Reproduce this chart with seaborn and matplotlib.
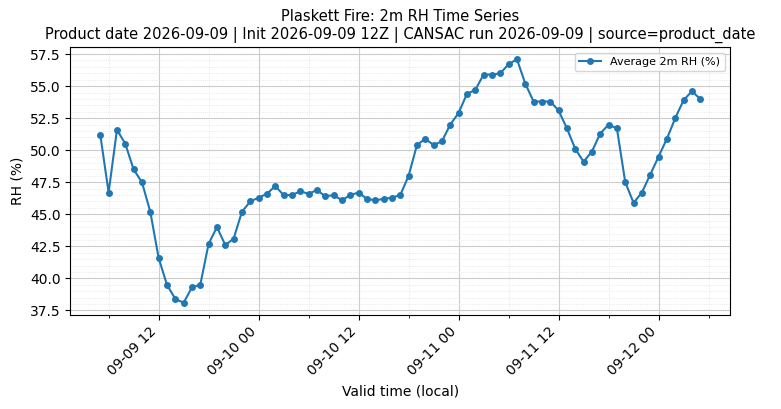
import matplotlib
matplotlib.use("Agg")
import matplotlib.pyplot as plt
import matplotlib.dates as mdates
from matplotlib.ticker import MultipleLocator
import pandas as pd
import seaborn as sns

start_time = "2026-09-09 05:00"
rh_values = [
    51.2, 46.7, 51.6, 50.5, 48.5, 47.5, 45.2, 41.6, 39.5, 38.4,
    38.1, 39.3, 39.5, 42.7, 44.0, 42.6, 43.1, 45.2, 46.0, 46.3,
    46.6, 47.2, 46.5, 46.5, 46.8, 46.6, 46.9, 46.4, 46.5, 46.1,
    46.5, 46.7, 46.2, 46.1, 46.2, 46.3, 46.5, 48.0, 50.4, 50.9,
    50.4, 50.7, 52.0, 52.9, 54.4, 54.7, 55.9, 55.9, 56.0, 56.7,
    57.1, 55.2, 53.8, 53.8, 53.8, 53.1, 51.7, 50.1, 49.1, 49.9,
    51.3, 52.0, 51.7, 47.5, 45.9, 46.7, 48.1, 49.5, 50.9, 52.5,
    53.9, 54.6, 54.0,
]

df = pd.DataFrame({
    "time": pd.date_range(start_time, periods=len(rh_values), freq="h"),
    "rh": rh_values,
})

plt.rcParams["font.family"] = ["DejaVu Sans"]

fig, ax = plt.subplots(figsize=(7.81, 4.09), dpi=100)
sns.lineplot(data=df, x="time", y="rh", ax=ax, marker="o", markersize=5,
             markeredgewidth=0, color="#1f77b4", linewidth=1.5,
             label="Average 2m RH (%)")

ax.xaxis.set_major_locator(mdates.HourLocator(byhour=[0, 12]))
ax.xaxis.set_minor_locator(mdates.HourLocator(byhour=[6, 18]))
ax.xaxis.set_major_formatter(mdates.DateFormatter("%m-%d %H"))
ax.yaxis.set_major_locator(MultipleLocator(2.5))
ax.yaxis.set_minor_locator(MultipleLocator(0.5))
ax.tick_params(axis="y", which="minor", length=0)
ax.grid(which="major", color="#cccccc", linewidth=0.8)
ax.grid(which="minor", color="#e0e0e0", linestyle=":", linewidth=0.6)
plt.setp(ax.get_xticklabels(), rotation=45, ha="right")

ax.set_xlabel("Valid time (local)")
ax.set_ylabel("RH (%)")
ax.set_title("Plaskett Fire: 2m RH Time Series\n"
             "Product date 2026-09-09 | Init 2026-09-09 12Z | CANSAC run 2026-09-09 | source=product_date",
             fontsize=10.5)
ax.legend(loc="upper right", fontsize=8)

fig.subplots_adjust(left=0.09, right=0.935, top=0.885, bottom=0.23)
fig.savefig("out.png", dpi=100)
